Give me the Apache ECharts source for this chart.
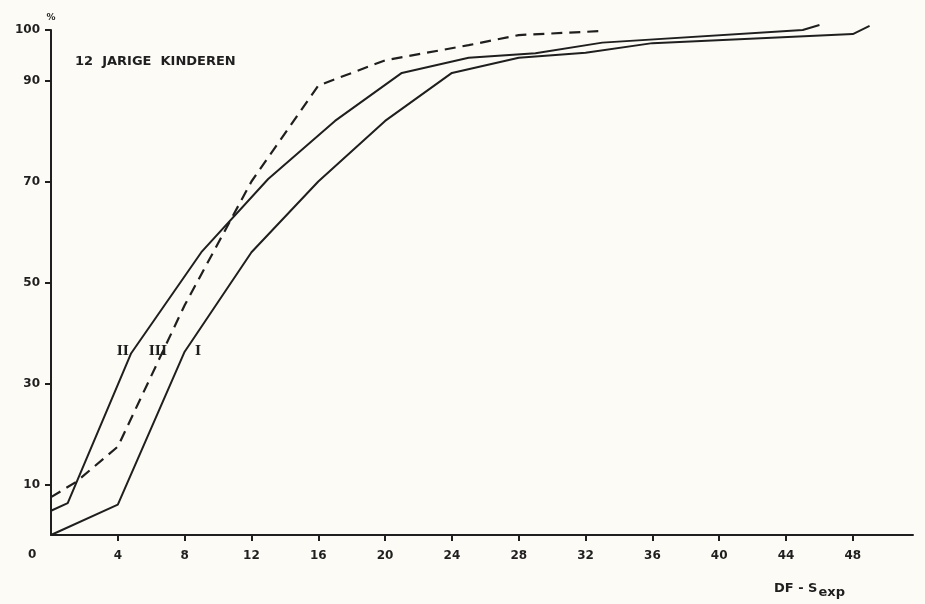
<!DOCTYPE html>
<html>
<head>
<meta charset="utf-8">
<script src="https://cdn.jsdelivr.net/npm/echarts@6/dist/echarts.min.js"></script>
<style>
	html, body { margin: 0; padding: 0; background: #fcfbf6; }
	#main { width: 925px; height: 604px; }
</style>
</head>
<body>
<div id="main"></div>
<script>
// curve I (solid, right)
const xI = [0, 4, 8, 12, 16, 20, 24, 28, 32, 36, 48, 49];
const yI = [0, 6, 36.3, 56, 70, 82, 91.5, 94.5, 95.5, 97.4, 99.2, 100.8];
// curve II (solid, left)
const xII = [0, 1, 4.8, 9, 13, 17, 21, 25, 29, 33, 45, 46];
const yII = [4.8, 6.3, 36, 56, 70.5, 82, 91.5, 94.5, 95.4, 97.5, 100, 101];
// curve III (dashed)
const xIII = [0, 1.5, 4, 8, 12, 16, 20, 25, 28, 33];
const yIII = [7.5, 10.5, 17.5, 45.5, 70, 89, 94, 97, 99, 99.8];

const xTicks = [4, 8, 12, 16, 20, 24, 28, 32, 36, 40, 44, 48];
const yTicks = [10, 30, 50, 70, 90, 100];

const ink = '#1f1f1f';
const labelFont = { color: ink, fontFamily: 'DejaVu Sans', fontWeight: 'bold', fontSize: 12 };

function zip(xs, ys) {
	let out = [];
	for(let i = 0; i < xs.length; i++) {
		out.push([xs[i], ys[i]]);
	}
	return out;
}

// roman numeral next to each curve
function tag(text, x, y) {
	return {
		symbol: 'circle',
		symbolSize: 0,
		label: {
			show: true,
			position: 'inside',
			formatter: text,
			color: ink,
			fontFamily: 'DejaVu Serif',
			fontWeight: 'bold',
			fontSize: 13
		},
		data: [{ coord: [x, y] }]
	};
}

const chart = echarts.init(document.getElementById('main'));
const option = {
	backgroundColor: '#fcfbf6',
	animation: false,
	grid: { left: 51, right: 12, top: 30, bottom: 69 },
	xAxis: {
		type: 'value',
		min: 0,
		max: 51.6,
		interval: 4,
		splitLine: { show: false },
		axisLine: { lineStyle: { color: ink, width: 2 } },
		axisTick: { show: true, customValues: xTicks, length: 6, lineStyle: { color: ink, width: 2 } },
		axisLabel: Object.assign({ customValues: xTicks, margin: 15 }, labelFont)
	},
	yAxis: {
		type: 'value',
		min: 0,
		max: 100,
		interval: 10,
		name: '%',
		nameGap: 8,
		nameTextStyle: { color: ink, fontFamily: 'DejaVu Sans', fontWeight: 'bold', fontSize: 9, align: 'center' },
		splitLine: { show: false },
		axisLine: { show: true, lineStyle: { color: ink, width: 2 } },
		axisTick: { show: true, customValues: yTicks, length: 6, lineStyle: { color: ink, width: 2 } },
		axisLabel: Object.assign({ customValues: yTicks, margin: 11 }, labelFont)
	},
	graphic: [
		{
			type: 'text', left: 75, top: 55,
			style: { text: '12  JARIGE  KINDEREN', fill: ink, font: 'bold 13px "DejaVu Sans"' }
		},
		{
			type: 'text', left: 28, top: 549,
			style: { text: '0', fill: ink, font: 'bold 12px "DejaVu Sans"' }
		},
		{
			type: 'text', left: 774, top: 582,
			style: {
				text: '{a|DF - S}{b|exp}',
				rich: {
					a: { fill: ink, fontFamily: 'DejaVu Sans', fontWeight: 'bold', fontSize: 13 },
					b: { fill: ink, fontFamily: 'DejaVu Sans', fontWeight: 'bold', fontSize: 13, padding: [8, 0, 0, 1] }
				}
			}
		}
	],
	series: [
		{
			name: 'I',
			type: 'line',
			data: zip(xI, yI),
			symbol: 'none',
			clip: false,
			lineStyle: { color: ink, width: 2 },
			markPoint: tag('I', 8.8, 36.3)
		},
		{
			name: 'II',
			type: 'line',
			data: zip(xII, yII),
			symbol: 'none',
			clip: false,
			lineStyle: { color: ink, width: 2 },
			markPoint: tag('II', 4.3, 36.3)
		},
		{
			name: 'III',
			type: 'line',
			data: zip(xIII, yIII),
			symbol: 'none',
			clip: false,
			lineStyle: { color: ink, width: 2.2, type: [11, 7] },
			markPoint: tag('III', 6.4, 36.3)
		}
	]
};
chart.setOption(option);
</script>
</body>
</html>
